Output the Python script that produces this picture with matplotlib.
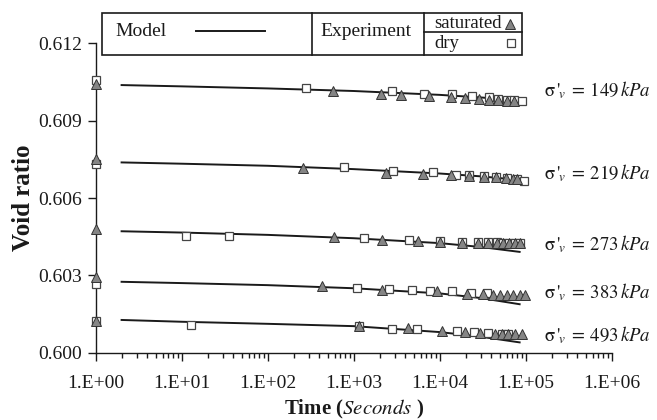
import matplotlib
matplotlib.use("Agg")
import matplotlib.pyplot as plt
from matplotlib.patches import Rectangle
from matplotlib.lines import Line2D
from matplotlib.ticker import FixedLocator, FixedFormatter, LogLocator, NullFormatter
import numpy as np

plt.rcParams['font.family'] = ['Liberation Serif', 'DejaVu Serif']
plt.rcParams['mathtext.fontset'] = 'stix'

# ---------------- data ----------------
pressures = [149, 219, 273, 383, 493]

model_t = [2, 10, 100, 1000, 10000, 30000, 85000]
model_149 = [0.61038, 0.61033, 0.61025, 0.61015, 0.61000, 0.60990, 0.60978]
model_219 = [0.60738, 0.60733, 0.60725, 0.60712, 0.60695, 0.60684, 0.60670]
model_273 = [0.60471, 0.60466, 0.60457, 0.60444, 0.60425, 0.60410, 0.60391]
model_383 = [0.60275, 0.60270, 0.60262, 0.60250, 0.60230, 0.60212, 0.60188]
model_493 = [0.60127, 0.60120, 0.60112, 0.60103, 0.60080, 0.60062, 0.60040]

sat_t_149 = [1, 580, 2060, 3550, 7570, 13650, 19700, 28400, 37700, 47600, 60100, 73800]
sat_e_149 = [0.61044, 0.61014, 0.61004, 0.60999, 0.60995, 0.60992, 0.60988, 0.60983, 0.60982, 0.60979, 0.60978, 0.60977]
dry_t_149 = [1, 276, 2766, 6620, 13800, 23900, 37700, 47600, 60100, 73800, 89800]
dry_e_149 = [0.61057, 0.61025, 0.61014, 0.61005, 0.61002, 0.60996, 0.60991, 0.60983, 0.60981, 0.60981, 0.60976]

sat_t_219 = [1, 259, 2375, 6450, 13400, 22100, 33000, 44800, 59000, 71700, 80000]
sat_e_219 = [0.60751, 0.60717, 0.60698, 0.60693, 0.60689, 0.60685, 0.60682, 0.60680, 0.60677, 0.60675, 0.60674]
dry_t_219 = [1, 778, 2840, 8280, 15400, 22100, 33000, 45500, 60000, 78500, 95500]
dry_e_219 = [0.60731, 0.60719, 0.60705, 0.60699, 0.60691, 0.60690, 0.60686, 0.60682, 0.60677, 0.60672, 0.60667]

sat_t_273 = [1, 590, 2120, 5640, 10060, 18000, 28100, 36700, 46000, 55000, 64500, 75100, 86000]
sat_e_273 = [0.60478, 0.60450, 0.60437, 0.60433, 0.60428, 0.60427, 0.60424, 0.60424, 0.60424, 0.60424, 0.60424, 0.60424, 0.60424]
dry_t_273 = [11.1, 35.7, 1330, 4400, 10060, 18000, 28100, 36700, 46000, 55000, 64500, 75100, 86000]
dry_e_273 = [0.60453, 0.60453, 0.60443, 0.60437, 0.60433, 0.60430, 0.60428, 0.60428, 0.60428, 0.60427, 0.60427, 0.60427, 0.60427]

sat_t_383 = [1, 425, 2130, 9380, 20600, 32100, 42000, 50200, 60100, 71800, 85900, 98200]
sat_e_383 = [0.60295, 0.60260, 0.60243, 0.60239, 0.60229, 0.60226, 0.60224, 0.60224, 0.60224, 0.60224, 0.60224, 0.60224]
dry_t_383 = [1, 1100, 2600, 4800, 7720, 13800, 22900, 35800]
dry_e_383 = [0.60265, 0.60252, 0.60247, 0.60243, 0.60240, 0.60239, 0.60233, 0.60233]

sat_t_493 = [1, 1150, 4300, 10700, 19700, 29400, 44000, 52600, 62800, 75100, 89800]
sat_e_493 = [0.60124, 0.60103, 0.60095, 0.60084, 0.60081, 0.60078, 0.60072, 0.60072, 0.60072, 0.60072, 0.60072]
dry_t_493 = [1, 12.9, 1150, 2770, 5400, 16000, 25000, 36700, 52600, 62800]
dry_e_493 = [0.60124, 0.60107, 0.60103, 0.60092, 0.60092, 0.60085, 0.60081, 0.60078, 0.60073, 0.60073]

label_e = [0.61018, 0.60695, 0.60421, 0.60233, 0.60069]

y_ticks = [0.600, 0.603, 0.606, 0.609, 0.612]
y_tick_labels = ["0.600", "0.603", "0.606", "0.609", "0.612"]
x_ticks = [1e0, 1e1, 1e2, 1e3, 1e4, 1e5, 1e6]
x_tick_labels = ["1.E+00", "1.E+01", "1.E+02", "1.E+03", "1.E+04", "1.E+05", "1.E+06"]

# ---------------- figure ----------------
W, H = 657, 420
fig = plt.figure(figsize=(W / 100, H / 100), dpi=100)
ax = fig.add_axes([95.7 / W, 1 - 352.7 / H, 516 / W, (352.7 - 43.3) / H])

ink = "#1a1a1a"
models = [model_149, model_219, model_273, model_383, model_493]
sats = [(sat_t_149, sat_e_149), (sat_t_219, sat_e_219), (sat_t_273, sat_e_273),
        (sat_t_383, sat_e_383), (sat_t_493, sat_e_493)]
drys = [(dry_t_149, dry_e_149), (dry_t_219, dry_e_219), (dry_t_273, dry_e_273),
        (dry_t_383, dry_e_383), (dry_t_493, dry_e_493)]

for m in models:
    ax.plot(model_t, m, color=ink, lw=1.4, zorder=2)
for (t, e) in drys:
    ax.plot(t, e, ls='none', marker='s', ms=6.3, mfc='white', mec='#444444', mew=0.9,
            clip_on=False, zorder=3)
for (t, e) in sats:
    ax.plot(t, e, ls='none', marker='^', ms=6.8, mfc='#858585', mec='#333333', mew=0.7,
            clip_on=False, zorder=4)

for p, ye in zip(pressures, label_e):
    ax.text(1.62e5, ye, r"$\mathrm{\sigma}\,'_{\!\mathit{v}}\;=\,%d\,\mathit{kPa}$" % p,
            fontsize=13.5, va='center', ha='left', color=ink)

ax.set_xscale('log')
ax.set_xlim(1, 1e6)
ax.set_ylim(0.600, 0.612)
ax.xaxis.set_major_locator(FixedLocator(x_ticks))
ax.xaxis.set_major_formatter(FixedFormatter(x_tick_labels))
ax.xaxis.set_minor_locator(LogLocator(base=10, subs=np.arange(2, 10)))
ax.xaxis.set_minor_formatter(NullFormatter())
ax.yaxis.set_major_locator(FixedLocator(y_ticks))
ax.yaxis.set_major_formatter(FixedFormatter(y_tick_labels))

for s in ['top', 'right']:
    ax.spines[s].set_visible(False)
for s in ['left', 'bottom']:
    ax.spines[s].set_color(ink)
    ax.spines[s].set_linewidth(1.0)
ax.tick_params(axis='both', which='major', direction='out', length=6, width=1.0,
               color=ink, labelsize=14, labelcolor=ink)
ax.tick_params(axis='x', which='minor', direction='out', length=3.5, width=1.0, color=ink)
ax.tick_params(axis='x', which='major', pad=10)
ax.tick_params(axis='y', which='major', pad=4)

ax.set_ylabel("Void ratio", fontsize=18, fontweight='bold', color=ink, labelpad=2)
ax.set_xlabel(r"Time ($\boldsymbol{\mathit{Seconds}}$ )", fontsize=15, fontweight='bold',
              color=ink, labelpad=4)

# ---------------- custom legend box ----------------
def fx(x):
    return x / W

def fy(y):
    return 1 - y / H

tf = fig.transFigure
fig.add_artist(Rectangle((fx(102), fy(55)), fx(522) - fx(102), fy(13) - fy(55),
                         transform=tf, fill=False, ec=ink, lw=1.2))
fig.add_artist(Line2D([fx(312), fx(312)], [fy(13), fy(55)], transform=tf, color=ink, lw=1.2))
fig.add_artist(Line2D([fx(424), fx(424)], [fy(13), fy(55)], transform=tf, color=ink, lw=1.2))
fig.add_artist(Line2D([fx(424), fx(522)], [fy(32), fy(32)], transform=tf, color=ink, lw=1.2))
fig.add_artist(Line2D([fx(196), fx(265)], [fy(31), fy(31)], transform=tf, color=ink, lw=1.4))
fig.text(fx(115), fy(31), "Model", fontsize=14, va='center', ha='left', color=ink)
fig.text(fx(320), fy(32), "Experiment", fontsize=14, va='center', ha='left', color=ink)
fig.text(fx(434), fy(23), "saturated", fontsize=13.5, va='center', ha='left', color=ink)
fig.text(fx(434), fy(43), "dry", fontsize=13.5, va='center', ha='left', color=ink)
fig.add_artist(Line2D([fx(510)], [fy(24)], transform=tf, ls='none', marker='^', ms=6.8,
                      mfc='#858585', mec='#333333', mew=0.7))
fig.add_artist(Line2D([fx(511)], [fy(43)], transform=tf, ls='none', marker='s', ms=6.3,
                      mfc='white', mec='#444444', mew=0.9))

fig.savefig("out.png", dpi=100)
